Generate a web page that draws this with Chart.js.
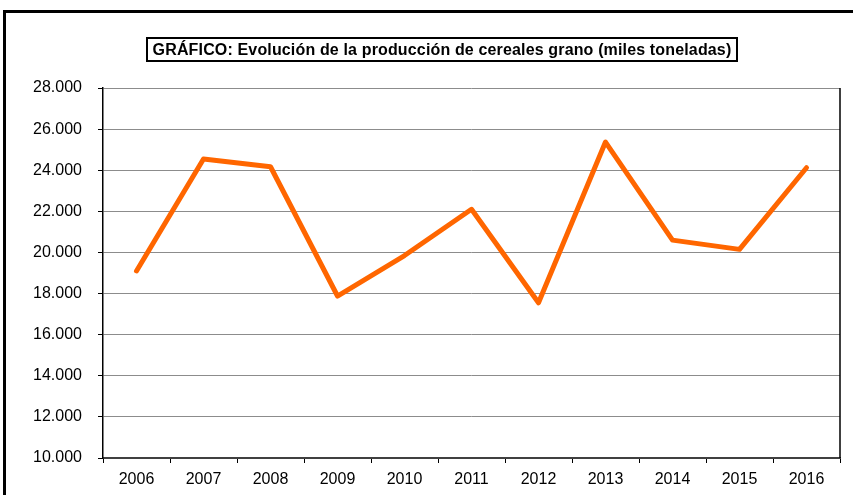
<!DOCTYPE html>
<html>
<head>
<meta charset="utf-8">
<script src="https://cdn.jsdelivr.net/npm/chart.js@4.4.1/dist/chart.umd.min.js"></script>
<style>
    html, body { margin: 0; padding: 0; background: #fff; overflow: hidden; }
    #wrap { position: relative; width: 853px; height: 495px; }
    #frame {
        position: absolute; left: 3px; top: 10px; width: 900px; height: 600px;
        border: 3px solid #000; box-sizing: border-box;
    }
    #title {
        position: absolute; left: 146px; top: 37px; width: 592px; height: 25px;
        border: 2px solid #000; box-sizing: border-box;
        font: bold 16px "Liberation Sans", Arial, sans-serif;
        letter-spacing: 0.15px;
        text-align: center; line-height: 21px; color: #000; white-space: nowrap;
    }
    #chart { position: absolute; left: 0; top: 0; }
</style>
</head>
<body>
<div id="wrap">
    <div id="frame"></div>
    <canvas id="chart" width="853" height="495"></canvas>
    <div id="title">GRÁFICO: Evolución de la producción de cereales grano (miles toneladas)</div>
</div>
<script>
// Data
const years = ['2006', '2007', '2008', '2009', '2010', '2011', '2012', '2013', '2014', '2015', '2016']
const production = [19100, 24550, 24170, 17880, 19850, 22100, 17550, 25370, 20600, 20150, 24120]
const yMin = 10000
const yMax = 28000
const yStep = 2000

// Draws the black border on the right edge of the plot
const rightBorder = {
    id: 'rightBorder',
    afterDraw(chart) {
        const { ctx, chartArea } = chart
        ctx.save()
        ctx.strokeStyle = '#000'
        ctx.lineWidth = 1.5
        ctx.beginPath()
        ctx.moveTo(chartArea.right, chartArea.top)
        ctx.lineTo(chartArea.right, chartArea.bottom)
        ctx.stroke()
        ctx.restore()
    }
}

const font = { family: '"Liberation Sans", Arial, sans-serif', size: 16 }

new Chart(document.getElementById('chart'), {
    type: 'line',
    data: {
        labels: years,
        datasets: [{
            data: production,
            borderColor: '#ff6600',
            borderWidth: 5,
            borderCapStyle: 'round',
            borderJoinStyle: 'round',
            pointRadius: 0,
            tension: 0,
            fill: false
        }]
    },
    options: {
        responsive: false,
        animation: false,
        layout: { padding: { top: 88, right: 13, left: 0, bottom: 0 } },
        plugins: {
            legend: { display: false },
            title: { display: false },
            tooltip: { enabled: false }
        },
        scales: {
            x: {
                offset: true,
                afterFit: (scale) => { scale.height = 37 },
                grid: {
                    offset: true,
                    drawOnChartArea: false,
                    drawTicks: true,
                    tickLength: 5,
                    tickColor: '#000'
                },
                border: { color: '#404040', width: 2 },
                ticks: { color: '#000', font: font, padding: 7, maxRotation: 0 }
            },
            y: {
                min: yMin,
                max: yMax,
                afterFit: (scale) => { scale.width = 103 },
                grid: {
                    color: '#8c8c8c',
                    lineWidth: 1,
                    tickLength: 5,
                    tickColor: '#000'
                },
                border: { color: '#000', width: 1.5 },
                ticks: {
                    stepSize: yStep,
                    color: '#000',
                    font: font,
                    padding: 16,
                    callback: (value) => String(value).replace(/^(\d{2})(\d{3})$/, '$1.$2')
                }
            }
        }
    },
    plugins: [rightBorder]
})
</script>
</body>
</html>
